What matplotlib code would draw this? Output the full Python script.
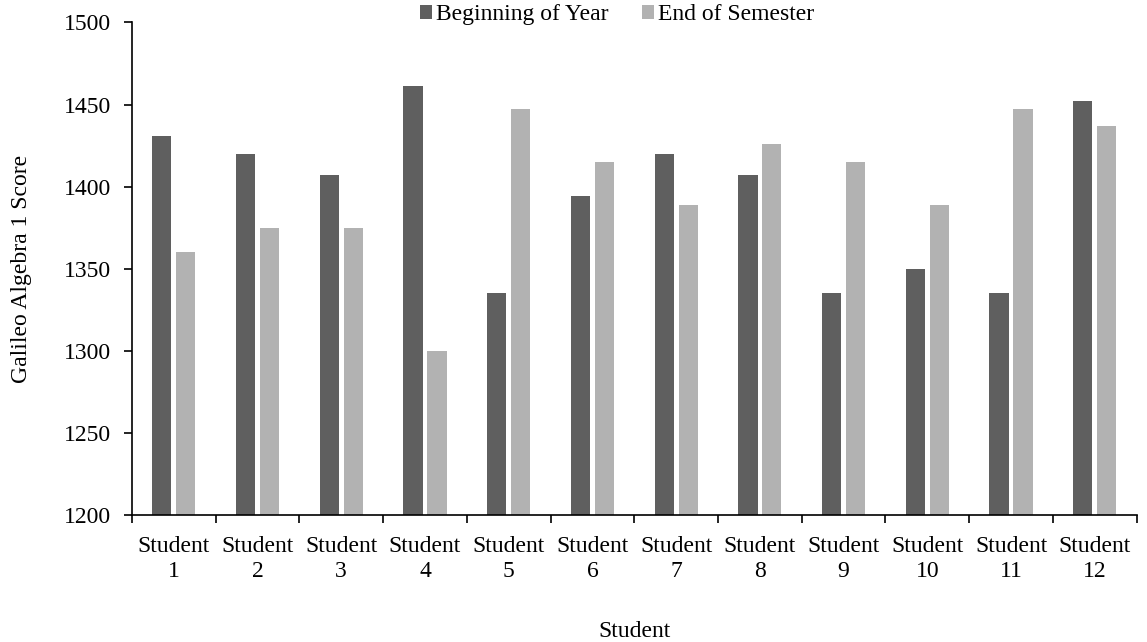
import matplotlib.pyplot as plt
import numpy as np

plt.rcParams["font.family"] = ["Liberation Serif", "DejaVu Serif"]

students = [f"Student\n{i}" for i in range(1, 13)]
beginning_of_year = [1431, 1420, 1407, 1461, 1335, 1394, 1420, 1407, 1335, 1350, 1335, 1452]
end_of_semester = [1360, 1375, 1375, 1300, 1447, 1415, 1389, 1426, 1415, 1389, 1447, 1437]

x = np.arange(len(students))
width = 0.23

fig = plt.figure(figsize=(11.47, 6.42), dpi=100)
ax = fig.add_axes([0.115, 0.198, 0.876, 0.767])

ax.bar(x - 0.143, beginning_of_year, width, color="#5f5f5f", label="Beginning of Year")
ax.bar(x + 0.143, end_of_semester, width, color="#b2b2b2", label="End of Semester")

ax.set_ylim(1200, 1500)
ax.set_yticks(range(1200, 1501, 50))
ax.set_xlim(-0.5, len(students) - 0.5)

# category labels centred, tick marks between groups
ax.set_xticks(x)
ax.set_xticklabels(students, linespacing=1.25)
ax.set_xticks(np.arange(-0.5, len(students)), minor=True)
ax.tick_params(axis="x", which="major", length=0, pad=15, labelsize=17)
ax.tick_params(axis="x", which="minor", length=6, width=1.2, direction="out")
ax.tick_params(axis="y", length=6, width=1.2, direction="out", labelsize=17, pad=9)

for side in ("top", "right"):
    ax.spines[side].set_visible(False)
for side in ("left", "bottom"):
    ax.spines[side].set_linewidth(1.2)

ax.set_xlabel("Student", fontsize=17, labelpad=28)
ax.set_ylabel("Galileo Algebra 1 Score", fontsize=17, labelpad=23)

ax.legend(loc="upper center", bbox_to_anchor=(0.483, 1.08), ncol=2, frameon=False,
          fontsize=17, handlelength=0.5, handleheight=0.5, handletextpad=0.2,
          columnspacing=1.4)

fig.savefig("out.png", dpi=100)
